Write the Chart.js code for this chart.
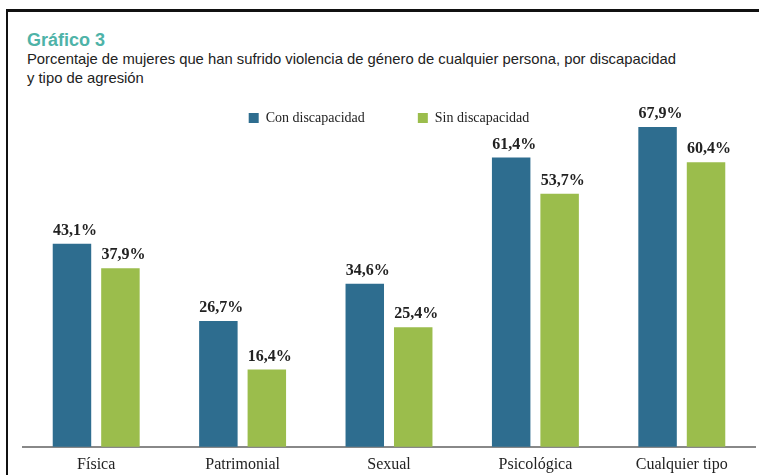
<!DOCTYPE html>
<html>
<head>
<meta charset="utf-8">
<script src="https://cdn.jsdelivr.net/npm/chart.js@4.4.1/dist/chart.umd.min.js"></script>
<style>
	html, body { margin: 0; padding: 0; background: #fff; }
	#wrap { position: relative; width: 759px; height: 475px; overflow: hidden; }
	#frame { position: absolute; left: 6px; top: 9px; right: -5px; bottom: -5px; border-left: 2px solid #111; border-top: 3px solid #111; }
	#title { position: absolute; left: 27px; top: 30px; font: bold 18px "Liberation Sans", Arial, sans-serif; color: #4eb3a8; }
	#subtitle { position: absolute; left: 27px; top: 50px; font: 14.8px "Liberation Sans", Arial, sans-serif; color: #222; line-height: 19px; }
	canvas { position: absolute; left: 0; top: 0; }
</style>
</head>
<body>
<div id="wrap">
	<div id="frame"></div>
	<div id="title">Gráfico 3</div>
	<div id="subtitle">Porcentaje de mujeres que han sufrido violencia de género de cualquier persona, por discapacidad<br>y tipo de agresión</div>
	<canvas id="chart" width="759" height="482"></canvas>
</div>

<script>
// data
const categories = ['Física', 'Patrimonial', 'Sexual', 'Psicológica', 'Cualquier tipo'];
const conDiscapacidad = [43.1, 26.7, 34.6, 61.4, 67.9];
const sinDiscapacidad = [37.9, 16.4, 25.4, 53.7, 60.4];

const BLUE = '#2e6d8f';
const GREEN = '#9bbd4c';
const SERIF = '"Liberation Serif", "Times New Roman", serif';

// value labels above each bar
const valueLabels = {
	id: 'valueLabels',
	afterDatasetsDraw(chart) {
		const ctx = chart.ctx;
		ctx.save();
		ctx.font = 'bold 16px ' + SERIF;
		ctx.fillStyle = '#222';
		ctx.textAlign = 'center';
		ctx.textBaseline = 'alphabetic';
		chart.data.datasets.forEach((ds, i) => {
			chart.getDatasetMeta(i).data.forEach((bar, j) => {
				ctx.fillText(ds.data[j].toFixed(1).replace('.', ',') + '%', bar.x + 3, bar.y - 9);
			});
		});
		ctx.restore();
	}
};

new Chart(document.getElementById('chart'), {
	type: 'bar',
	data: {
		labels: categories,
		datasets: [
			{ label: 'Con discapacidad', data: conDiscapacidad, backgroundColor: BLUE, clip: false },
			{ label: 'Sin discapacidad', data: sinDiscapacidad, backgroundColor: GREEN, clip: false }
		]
	},
	options: {
		responsive: false,
		animation: false,
		categoryPercentage: 0.662,
		barPercentage: 0.794,
		layout: { padding: { top: 107, left: 23, right: 4, bottom: 0 } },
		plugins: {
			legend: {
				position: 'top',
				align: 'center',
				labels: {
					boxWidth: 10,
					boxHeight: 10,
					padding: 4,
					color: '#222',
					font: { family: SERIF, size: 14 },
					generateLabels(chart) {
						const items = Chart.defaults.plugins.legend.labels.generateLabels(chart);
						// extra room between the two entries
						items[0].text = items[0].text + '              ';
						return items;
					}
				}
			},
			tooltip: { enabled: false }
		},
		scales: {
			x: {
				grid: { display: false, drawTicks: false },
				border: { display: true, color: '#888', width: 2 },
				ticks: {
					color: '#222',
					padding: 8,
					font: { family: SERIF, size: 16 }
				}
			},
			y: {
				display: false,
				min: 0,
				max: 66.2
			}
		}
	},
	plugins: [valueLabels]
});
</script>
</body>
</html>
